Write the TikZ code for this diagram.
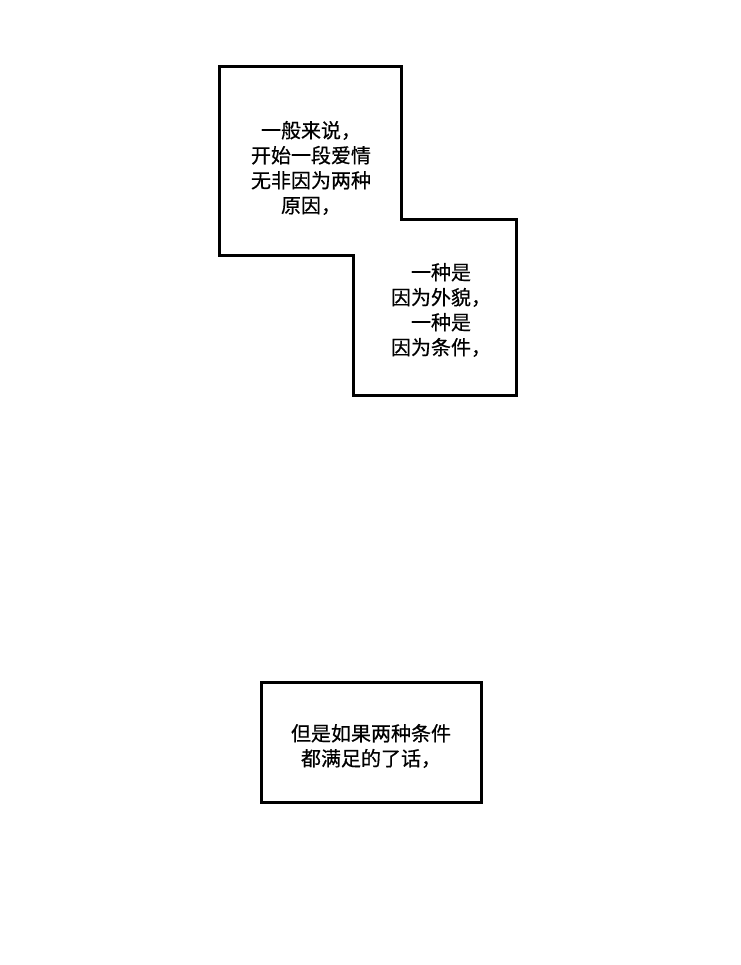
\documentclass[tikz,border=0pt]{standalone}
\usepackage{fontspec}
\newfontfamily\cjk[FakeBold=0.6]{Noto Sans CJK SC}
\usepackage{tikz}

\tikzset{
  panel/.style={line width=3pt, line join=miter},
  caption/.style={font=\cjk\fontsize{20}{25}\selectfont, align=center, inner sep=0pt}
}

\begin{document}
\begin{tikzpicture}[x=1pt,y=-1pt]

    \useasboundingbox (0,0) rectangle (740,965);

    % stepped panel at the top
    \draw[panel] (219,67) -- (401,67) -- (401,220) -- (516,220) -- (516,395)
        -- (353,395) -- (353,256) -- (219,256) -- cycle;

    % panel at the bottom
    \draw[panel] (261,682) rectangle (481,802);

    \node[caption] (intro) at (311,168) {一般来说，\\开始一段爱情\\无非因为两种\\原因，};
    \node[caption] (reasons) at (441,310) {一种是\\因为外貌，\\一种是\\因为条件，};
    \node[caption] (both) at (371,746) {但是如果两种条件\\都满足的了话，};
\end{tikzpicture}
\end{document}
